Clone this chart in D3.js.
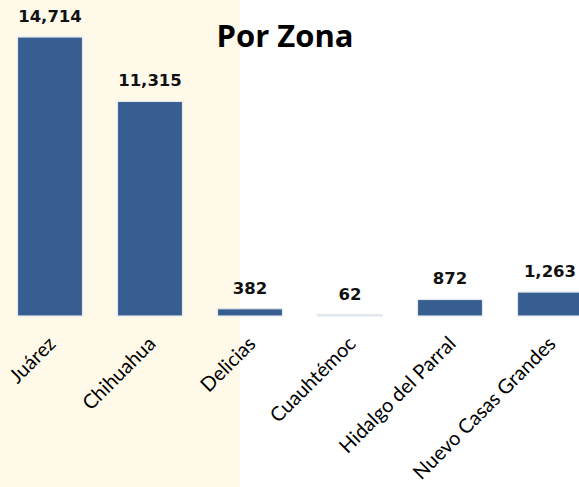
<!DOCTYPE html>
<html>
<head>
<meta charset="utf-8">
<script src="https://cdn.jsdelivr.net/npm/d3@7"></script>
<style>
  body { margin: 0; background: #fff; }
  svg { display: block; }
</style>
</head>
<body>
<svg id="chart" width="579" height="487"></svg>
<script>
const zonas = ["Juárez", "Chihuahua", "Delicias", "Cuauhtémoc", "Hidalgo del Parral", "Nuevo Casas Grandes"];
const valores = [14714, 11315, 382, 62, 872, 1263];

const svg = d3.select("#chart"),
      baseY = 316;

// beige panel on the left
svg.append("rect")
    .attr("x", 0).attr("y", 0)
    .attr("width", 240).attr("height", 487)
    .attr("fill", "#fef9e8");

const x = d3.scaleBand()
    .domain(zonas)
    .range([0, 600])
    .paddingInner(0.35)
    .paddingOuter(0.175);

const y = d3.scaleLinear()
    .domain([0, 14714])
    .range([baseY, 37]);

const data = zonas.map((z, i) => ({ zona: z, valor: valores[i] }));

// Bars
svg.selectAll(".bar")
    .data(data)
    .enter()
    .append("rect")
    .attr("class", "bar")
    .attr("x", d => x(d.zona))
    .attr("y", d => y(d.valor))
    .attr("width", x.bandwidth())
    .attr("height", d => baseY - y(d.valor))
    .attr("fill", "#365e90")
    .attr("stroke", "#e3e8ee")
    .attr("stroke-width", 1.2);

// Value labels
svg.selectAll(".bar-label")
    .data(data)
    .enter()
    .append("text")
    .attr("class", "bar-label")
    .attr("x", d => x(d.zona) + x.bandwidth() / 2)
    .attr("y", d => y(d.valor) - 15)
    .attr("text-anchor", "middle")
    .attr("font-family", "DejaVu Sans")
    .attr("font-size", "16.5px")
    .attr("font-weight", "bold")
    .attr("fill", "#111")
    .text(d => d3.format(",")(d.valor));

// Category labels
svg.selectAll(".cat-label")
    .data(zonas)
    .enter()
    .append("text")
    .attr("class", "cat-label")
    .attr("transform", d => `translate(${x(d) + x.bandwidth() / 2 + 7},345) rotate(-45)`)
    .attr("text-anchor", "end")
    .attr("font-family", "Lato")
    .attr("font-size", "20px")
    .attr("fill", "#000")
    .text(d => d);

// Title
svg.append("text")
    .attr("x", 285)
    .attr("y", 47)
    .attr("text-anchor", "middle")
    .attr("font-family", "Open Sans")
    .attr("font-size", "31px")
    .attr("font-weight", "bold")
    .attr("fill", "#000")
    .text("Por Zona");
</script>
</body>
</html>
